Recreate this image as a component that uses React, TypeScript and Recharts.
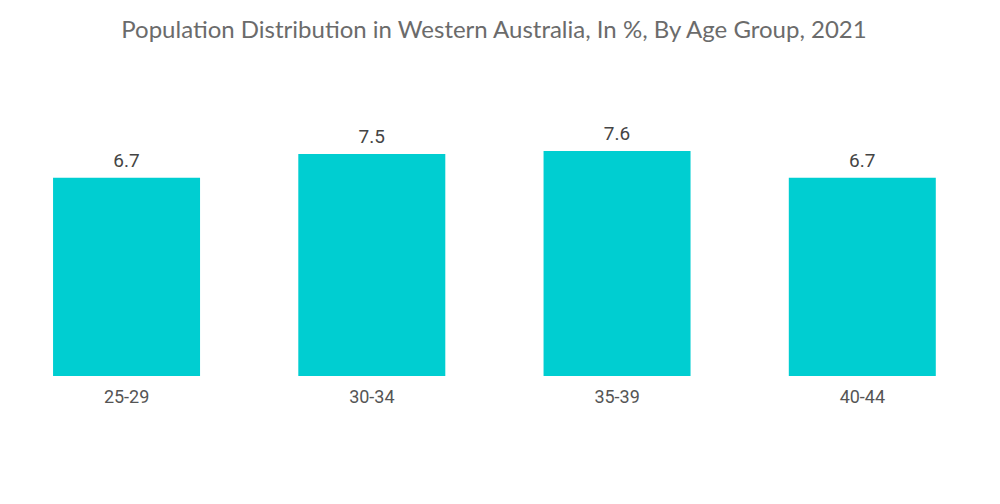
import React from "react";
import { BarChart, Bar, XAxis, YAxis, LabelList } from "recharts";

const categories = ["25-29", "30-34", "35-39", "40-44"];
const values = [6.7, 7.5, 7.6, 6.7];
const title = "Population Distribution in Western Australia, In %, By Age Group, 2021";

const data = categories.map((c, i) => ({ name: c, value: values[i] }));

export default function App() {
  return (
    <div style={{ position: "absolute", left: 0, top: 0, width: 1000, height: 504, background: "#fff" }}>
      <div
        style={{
          position: "absolute",
          left: 0,
          top: 14,
          width: 988,
          textAlign: "center",
          fontFamily: "Lato, sans-serif",
          fontSize: 24,
          color: "#6b6b6b",
        }}
      >
        {title}
      </div>
      <BarChart
        width={1000}
        height={504}
        data={data}
        margin={{ top: 80, right: 15, bottom: 98, left: 4 }}
        barCategoryGap="20%"
      >
        <XAxis
          dataKey="name"
          axisLine={false}
          tickLine={false}
          height={30}
          tickMargin={8}
          tick={{ fill: "#555", fontSize: 18, fontFamily: "Roboto, sans-serif" }}
        />
        <YAxis hide domain={[0, 10]} />
        <Bar dataKey="value" fill="#00CED1" isAnimationActive={false}>
          <LabelList
            dataKey="value"
            position="top"
            offset={11}
            fill="#444"
            fontSize={19}
            fontFamily="Roboto, sans-serif"
          />
        </Bar>
      </BarChart>
    </div>
  );
}
